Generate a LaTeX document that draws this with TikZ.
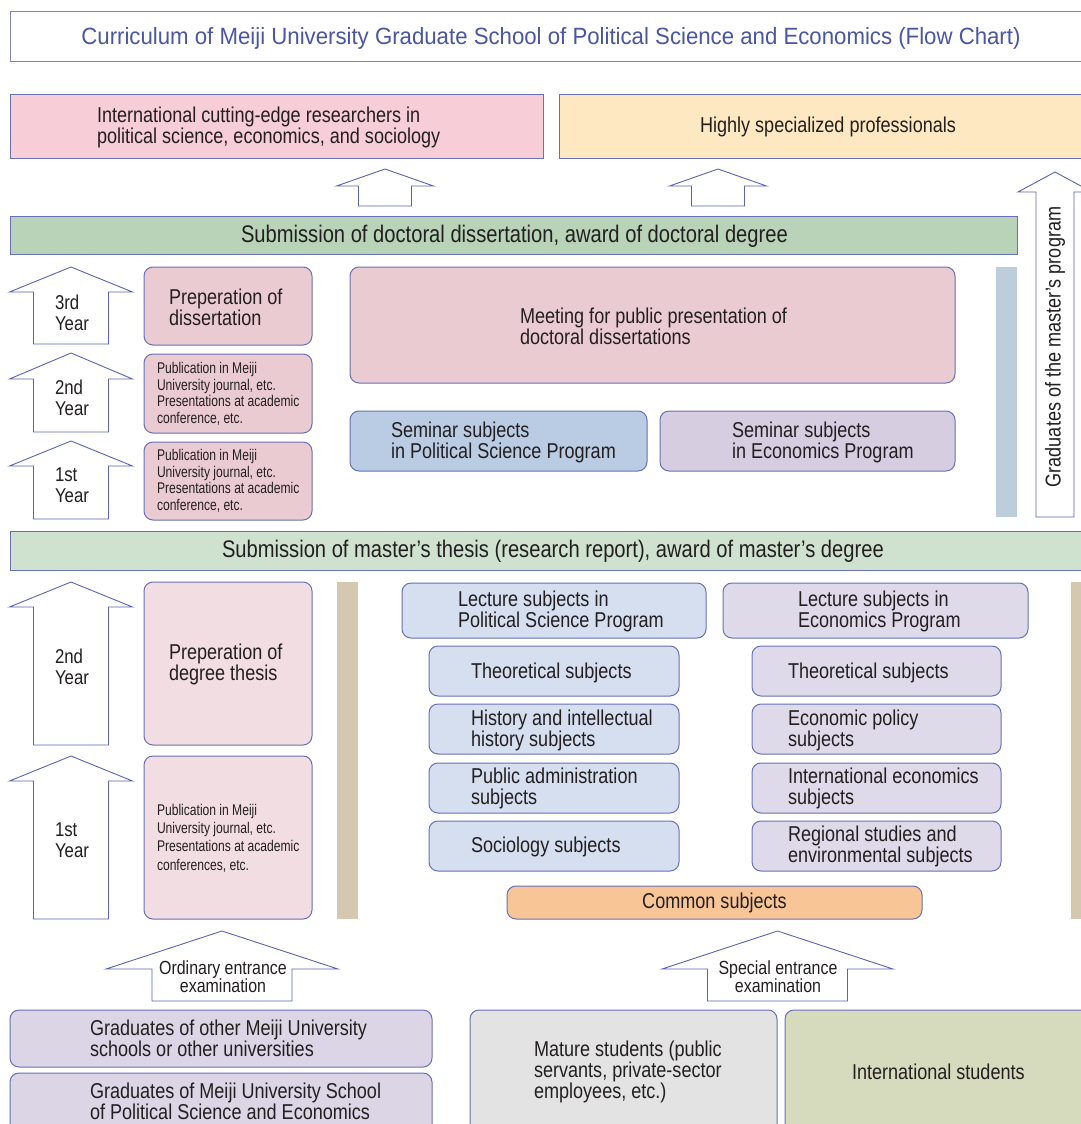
\documentclass[tikz,border=0pt]{standalone}
\usepackage{fontspec}
\setmainfont{Liberation Sans}[FakeStretch=0.84]
\newfontfamily\titlefont{Liberation Sans}[FakeStretch=0.945]
\newfontfamily\smallfont{Liberation Sans}[FakeStretch=0.78]
\definecolor{edge}{HTML}{6870B6}
\definecolor{arrowedge}{HTML}{5A64B4}
\definecolor{titleblue}{HTML}{4A56A5}
\definecolor{ink}{HTML}{231F20}
\definecolor{pinktop}{HTML}{F7CDD8}
\definecolor{yellowtop}{HTML}{FDE8C2}
\definecolor{greendoc}{HTML}{B8D3B8}
\definecolor{greenmas}{HTML}{CFE2CF}
\definecolor{pinkdoc}{HTML}{EBCBD2}
\definecolor{pinkmas}{HTML}{F2DDE2}
\definecolor{semps}{HTML}{B9CCE3}
\definecolor{semec}{HTML}{D6CDE0}
\definecolor{bluebar}{HTML}{BCCDDC}
\definecolor{tanbar}{HTML}{D4C8B0}
\definecolor{lecps}{HTML}{D5DFF0}
\definecolor{lecec}{HTML}{DEDAEA}
\definecolor{commonc}{HTML}{F8C597}
\definecolor{gradc}{HTML}{DCD5E6}
\definecolor{maturec}{HTML}{E3E3E3}
\definecolor{intlc}{HTML}{D6DBBD}
\newcommand\fsz[2]{\fontsize{#1}{#2}\selectfont}
\tikzset{
  every node/.style={inner sep=0pt, outer sep=0pt},
  frame/.style={draw=edge, line width=1pt},
  rbox/.style={frame, rounded corners=9pt},
  txt/.style={text=ink, align=left, font=\fsz{21.5}{21}},
  bigtxt/.style={txt, font=\fsz{24}{24}},
  yeartxt/.style={txt, anchor=west, font=\fsz{20}{21}},
  smalltxt/.style={txt, font=\smallfont\fsz{15.5}{16.5}},
  smalltxtb/.style={txt, font=\smallfont\fsz{15.5}{18.3}},
  enttxt/.style={txt, align=center, font=\fsz{19}{18}},
  blockarrow/.style={draw=arrowedge, fill=white, line width=0.9pt, line join=miter},
}
% box from (x1,y1) to (x2,y2)
\newcommand\boxat[6]{%
  \pgfmathsetmacro\bxw{#5-#3}\pgfmathsetmacro\bxh{#6-#4}%
  \node[#1, anchor=north west, minimum width=\bxw pt, minimum height=\bxh pt] (#2) at (#3,#4) {};}
% block up-arrow: cx, tip, headbase, bottom, half head, half shaft
\newcommand\uparrowat[6]{%
  \draw[blockarrow] ({#1-#5},#3) -- (#1,#2) -- ({#1+#5},#3) -- ({#1+#6},#3) -- ({#1+#6},#4) -- ({#1-#6},#4) -- ({#1-#6},#3) -- cycle;}
\begin{document}
\begin{tikzpicture}[x=1pt,y=-1pt]
\useasboundingbox (0,0) rectangle (1081,1124);
\clip (0,0) rectangle (1081,1124);
\fill[white] (0,0) rectangle (1081,1124);

% title
\boxat{frame, draw=edge!85}{titlebox}{10}{12}{1095}{62}
\node[font=\titlefont\fsz{23.5}{24}, text=titleblue] (title) at (551,38) {Curriculum of Meiji University Graduate School of Political Science and Economics (Flow Chart)};

% goals
\boxat{frame, fill=pinktop}{researchers}{10}{94}{543}{158}
\node[txt, anchor=west] (researchers-t) at (97,127) {International cutting-edge researchers in\\political science, economics, and sociology};
\boxat{frame, fill=yellowtop}{professionals}{559}{94}{1095}{158}
\node[txt, anchor=west] (professionals-t) at (700,127) {Highly specialized professionals};

\uparrowat{385}{169}{186}{206}{48.5}{26.5}
\uparrowat{718}{169}{186}{206}{48.5}{26.5}
\uparrowat{1055}{172}{192}{517}{37}{19}
\node[txt, rotate=90] (mastersgrad) at (1055,347) {Graduates of the master’s program};

% doctoral program
\boxat{frame, fill=greendoc}{docbar}{10}{216}{1017}{254}
\node[bigtxt, anchor=west] (docbar-t) at (241,236) {Submission of doctoral dissertation, award of doctoral degree};

\uparrowat{71}{267}{292}{344}{61.5}{37.5}
\node[yeartxt] (y3) at (55,313) {3rd\\Year};
\uparrowat{71}{353}{379}{432}{61.5}{37.5}
\node[yeartxt] (y2) at (55,398) {2nd\\Year};
\uparrowat{71}{441}{466}{519}{61.5}{37.5}
\node[yeartxt] (y1) at (55,485) {1st\\Year};

\boxat{rbox, fill=pinkdoc}{prepdiss}{144}{267}{312}{345}
\node[txt, anchor=west] (prepdiss-t) at (169,307) {Preperation of\\dissertation};
\boxat{rbox, fill=pinkdoc}{pubd2}{144}{354}{312}{433}
\node[smalltxt, anchor=west] (pubd2-t) at (157,394) {Publication in Meiji\\University journal, etc.\\Presentations at academic\\conference, etc.};
\boxat{rbox, fill=pinkdoc}{pubd1}{144}{442}{312}{520}
\node[smalltxt, anchor=west] (pubd1-t) at (157,481) {Publication in Meiji\\University journal, etc.\\Presentations at academic\\conference, etc.};

\boxat{rbox, fill=pinkdoc}{meeting}{350}{267}{955}{383}
\node[txt, anchor=west] (meeting-t) at (520,326) {Meeting for public presentation of\\doctoral dissertations};
\boxat{rbox, fill=semps}{semps}{350}{411}{647}{471}
\node[txt, anchor=west] (semps-t) at (391,442) {Seminar subjects\\in Political Science Program};
\boxat{rbox, fill=semec}{semec}{660}{411}{955}{471}
\node[txt, anchor=west] (semec-t) at (732,442) {Seminar subjects\\in Economics Program};
\boxat{fill=bluebar}{docside}{996}{267}{1017}{517}

% master's program
\boxat{frame, fill=greenmas}{masbar}{10}{531}{1095}{570}
\node[bigtxt, anchor=west] (masbar-t) at (222,551) {Submission of master’s thesis (research report), award of master’s degree};

\uparrowat{71}{582}{607}{745}{61.5}{37.5}
\node[yeartxt] (m2) at (55,667) {2nd\\Year};
\uparrowat{71}{756}{781}{919}{61.5}{37.5}
\node[yeartxt] (m1) at (55,840) {1st\\Year};

\boxat{rbox, fill=pinkmas}{prepthesis}{144}{582}{312}{745}
\node[txt, anchor=west] (prepthesis-t) at (169,664) {Preperation of\\degree thesis};
\boxat{rbox, fill=pinkmas}{pubm}{144}{756}{312}{919}
\node[smalltxtb, anchor=west] (pubm-t) at (157,838) {Publication in Meiji\\University journal, etc.\\Presentations at academic\\conferences, etc.};

\boxat{fill=tanbar}{tanL}{337}{582}{358}{919}
\boxat{fill=tanbar}{tanR}{1071}{582}{1095}{919}

\boxat{rbox, fill=lecps}{lecps}{402}{583}{706}{638}
\node[txt, anchor=west] (lecps-t) at (458,611) {Lecture subjects in\\Political Science Program};
\boxat{rbox, fill=lecec}{lecec}{723}{583}{1028}{638}
\node[txt, anchor=west] (lecec-t) at (798,611) {Lecture subjects in\\Economics Program};

\boxat{rbox, fill=lecps}{ps1}{429}{646}{679}{696}
\node[txt, anchor=west] (ps1-t) at (471,673) {Theoretical subjects};
\boxat{rbox, fill=lecps}{ps2}{429}{704}{679}{754}
\node[txt, anchor=west] (ps2-t) at (471,730) {History and intellectual\\history subjects};
\boxat{rbox, fill=lecps}{ps3}{429}{763}{679}{813}
\node[txt, anchor=west] (ps3-t) at (471,788) {Public administration\\subjects};
\boxat{rbox, fill=lecps}{ps4}{429}{821}{679}{871}
\node[txt, anchor=west] (ps4-t) at (471,847) {Sociology subjects};

\boxat{rbox, fill=lecec}{ec1}{752}{646}{1001}{696}
\node[txt, anchor=west] (ec1-t) at (788,673) {Theoretical subjects};
\boxat{rbox, fill=lecec}{ec2}{752}{704}{1001}{754}
\node[txt, anchor=west] (ec2-t) at (788,730) {Economic policy\\subjects};
\boxat{rbox, fill=lecec}{ec3}{752}{763}{1001}{813}
\node[txt, anchor=west] (ec3-t) at (788,788) {International economics\\subjects};
\boxat{rbox, fill=lecec}{ec4}{752}{821}{1001}{871}
\node[txt, anchor=west] (ec4-t) at (788,846) {Regional studies and\\environmental subjects};

\boxat{rbox, fill=commonc}{common}{507}{886}{922}{919}
\node[txt] (common-t) at (714.5,903) {Common subjects};

% admission
\uparrowat{222}{931}{969}{1001}{116}{70}
\node[enttxt] (ordinary-t) at (223,977) {Ordinary entrance\\examination};
\uparrowat{777.5}{931}{969}{1001}{115.5}{70}
\node[enttxt] (special-t) at (778,977) {Special entrance\\examination};

\boxat{rbox, fill=gradc}{gradother}{10}{1010}{432}{1067}
\node[txt, anchor=west] (gradother-t) at (90,1038) {Graduates of other Meiji University\\schools or other universities};
\boxat{rbox, fill=gradc}{gradpse}{10}{1073}{432}{1135}
\node[txt, anchor=west] (gradpse-t) at (90,1101) {Graduates of Meiji University School\\of Political Science and Economics};
\boxat{rbox, fill=maturec}{mature}{470}{1010}{777}{1135}
\node[txt, font=\fsz{21.5}{20}, anchor=west] (mature-t) at (534,1072) {Mature students (public\\servants, private-sector\\employees, etc.)};
\boxat{rbox, fill=intlc}{intl}{785}{1010}{1095}{1135}
\node[txt, anchor=west] (intl-t) at (852,1072) {International students};
\end{tikzpicture}
\end{document}
